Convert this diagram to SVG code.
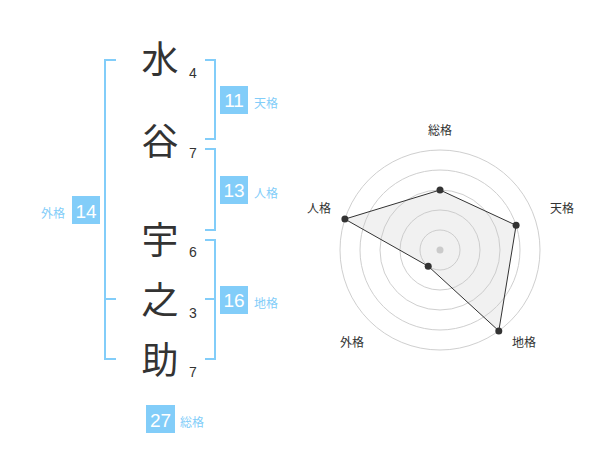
<svg xmlns="http://www.w3.org/2000/svg" width="600" height="470" viewBox="0 0 600 470">
<style>
.ch{font-family:"Noto Sans CJK JP","Noto Sans CJK SC",sans-serif;font-size:37px;fill:#333;text-anchor:middle}
.num{font-family:"Liberation Sans",Arial,sans-serif;font-size:14px;fill:#333;text-anchor:middle}
.br{fill:none;stroke:#82cdf9;stroke-width:2}
.box{fill:#82cdf9}
.bt{font-family:"Liberation Sans",Arial,sans-serif;font-size:19px;fill:#fff;text-anchor:middle}
.lb{font-family:"Noto Sans CJK JP","Noto Sans CJK SC",sans-serif;font-size:12px;fill:#82cdf9}
.rl{font-family:"Noto Sans CJK JP","Noto Sans CJK SC",sans-serif;font-size:12px;fill:#333;text-anchor:middle}
.ring{fill:none;stroke:#cfcfcf;stroke-width:1}
.dot{fill:#333}
</style>
<rect width="600" height="470" fill="#fff"/>
<g id="name">
<text class="ch" x="160" y="73">水</text>
<text class="ch" x="160" y="155">谷</text>
<text class="ch" x="160" y="254">宇</text>
<text class="ch" x="160" y="314">之</text>
<text class="ch" x="160" y="374">助</text>
<text class="num" x="193" y="78">4</text>
<text class="num" x="193" y="158">7</text>
<text class="num" x="193" y="257">6</text>
<text class="num" x="193" y="318">3</text>
<text class="num" x="193" y="377">7</text>
</g>
<g id="connectors">
<path class="br" d="M116,60 H105 V359 H116 M105,299 H116"/>
<path class="br" d="M205,60 H215 V139 H205"/>
<path class="br" d="M205,149 H215 V230 H205"/>
<path class="br" d="M205,240 H215 V359 H205 M205,299 H215"/>
</g>
<g id="tenkaku">
<rect class="box" x="220" y="86" width="28" height="28"/>
<text class="bt" x="234" y="107">11</text>
<text class="lb" x="254" y="108">天格</text>
</g>
<g id="jinkaku">
<rect class="box" x="220" y="176" width="28" height="28"/>
<text class="bt" x="234" y="197">13</text>
<text class="lb" x="254" y="198">人格</text>
</g>
<g id="chikaku">
<rect class="box" x="220" y="286" width="28" height="28"/>
<text class="bt" x="234" y="307">16</text>
<text class="lb" x="254" y="308">地格</text>
</g>
<g id="gaikaku">
<rect class="box" x="72" y="196" width="28" height="28"/>
<text class="bt" x="86" y="218">14</text>
<text class="lb" x="41" y="218">外格</text>
</g>
<g id="soukaku">
<rect class="box" x="146" y="405" width="29" height="28"/>
<text class="bt" x="160.5" y="427">27</text>
<text class="lb" x="180" y="427">総格</text>
</g>
<g id="radar">
<circle class="ring" cx="440" cy="250" r="20"/>
<circle class="ring" cx="440" cy="250" r="40"/>
<circle class="ring" cx="440" cy="250" r="60"/>
<circle class="ring" cx="440" cy="250" r="80"/>
<circle class="ring" cx="440" cy="250" r="100"/>
<circle cx="440" cy="250" r="3.5" fill="#ccc"/>
<polygon points="440,190 516.1,225.3 498.8,330.9 428.2,266.2 344.9,219.1" fill="rgba(200,200,200,0.25)" stroke="#333" stroke-width="1"/>
<circle class="dot" cx="440" cy="190" r="3.5"/>
<circle class="dot" cx="516.1" cy="225.3" r="3.5"/>
<circle class="dot" cx="498.8" cy="330.9" r="3.5"/>
<circle class="dot" cx="428.2" cy="266.2" r="3.5"/>
<circle class="dot" cx="344.9" cy="219.1" r="3.5"/>
<text class="rl" x="440" y="135">総格</text>
<text class="rl" x="562" y="213">天格</text>
<text class="rl" x="524" y="347">地格</text>
<text class="rl" x="352" y="347">外格</text>
<text class="rl" x="319" y="213">人格</text>
</g>
</svg>
